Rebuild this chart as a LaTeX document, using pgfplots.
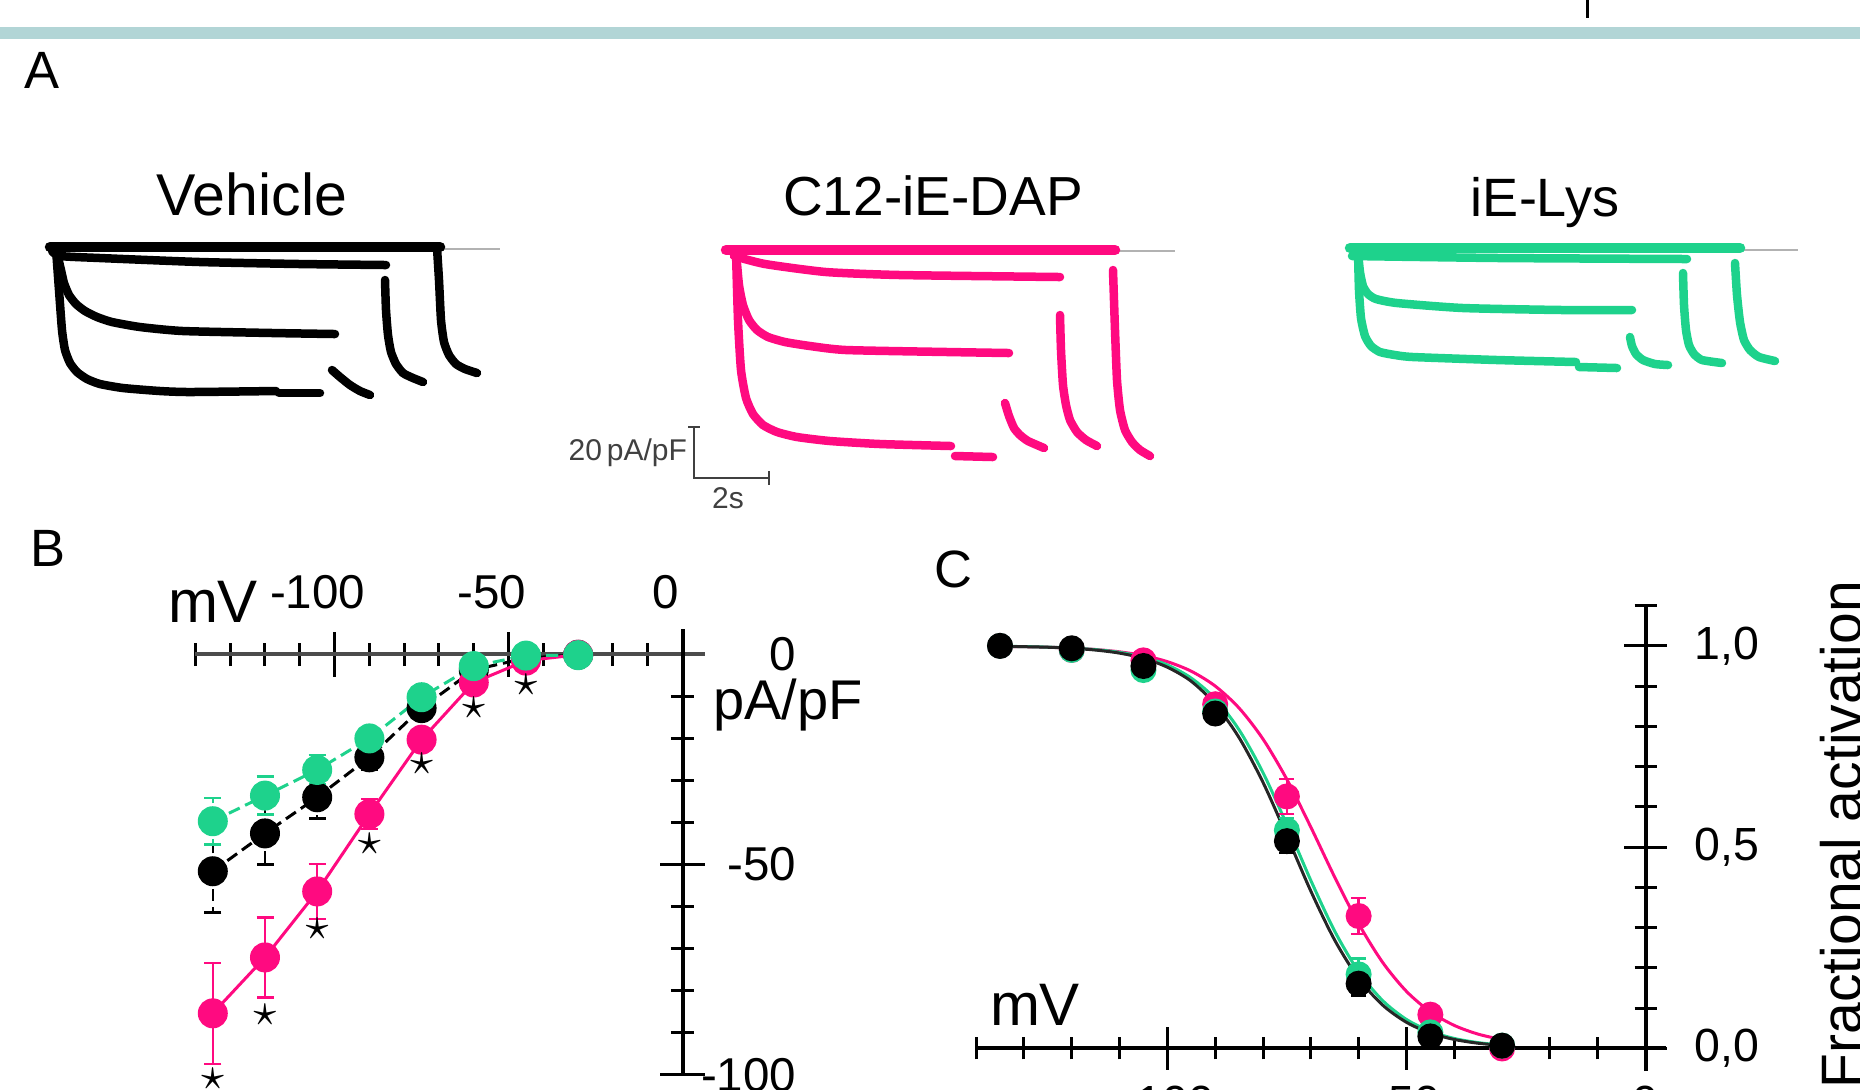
\documentclass[border=0pt]{standalone}
\usepackage{pgfplots}
\pgfplotsset{compat=1.18}
\usepackage{fontspec}
\setmainfont{Liberation Sans}
\definecolor{cpink}{RGB}{255,10,128}
\definecolor{cgreen}{RGB}{30,210,140}
\definecolor{cteal}{RGB}{178,213,214}
\tikzset{trace/.style={line width=1.7pt, line join=round, line cap=round, smooth, tension=0.35}}
\begin{document}
\begin{tikzpicture}
\useasboundingbox (0pt,0pt) rectangle (372pt,217.8pt);
\clip (0pt,0pt) rectangle (372pt,217.8pt);
% ---------- overlay (panel A and texts), pixel coordinates ----------
\begin{axis}[at={(0pt,0pt)}, anchor=south west, scale only axis,
  width=372pt, height=217.8pt, xmin=0, xmax=1860, ymin=0, ymax=1089,
  y dir=reverse, hide axis, clip=false]
\addplot[cteal, line width=2.5pt] coordinates {(0,33) (1860,33)};
\addplot[black, line width=0.6pt] coordinates {(1587,0) (1587,18)};
% Vehicle
\addplot[gray!60, line width=0.5pt] coordinates {(440,249) (500,249)};
\addplot[black, trace, line width=2.1pt] coordinates {(50,247) (440,247)};
\addplot[black, trace] coordinates {(52,251) (60,256) (100,258) (200,262) (300,264) (386,265)};
\addplot[black, trace] coordinates {(56,249) (61,270) (64,283) (69,295) (76,304) (85,311) (97,317) (112,322) (140,327) (183,331) (273,333) (335,334)};
\addplot[black, trace] coordinates {(56,249) (59,290) (62,330) (65,350) (70,363) (77,372) (87,379) (100,384) (123,388) (160,391) (190,392) (276,391)};
\addplot[black, trace] coordinates {(279,393) (320,393)};
\addplot[black, trace] coordinates {(332,370) (340,377) (350,385) (360,391) (370,395)};
\addplot[black, trace] coordinates {(385,280) (386,310) (388,335) (391,352) (396,364) (403,373) (413,378) (423,382)};
\addplot[black, trace] coordinates {(437,248) (439,280) (441,320) (444,342) (449,355) (456,364) (465,369) (477,373)};
% C12-iE-DAP
\addplot[gray!60, line width=0.5pt] coordinates {(1115,251) (1175,251)};
\addplot[cpink, trace, line width=2.1pt] coordinates {(726,250) (1115,250)};
\addplot[cpink, trace] coordinates {(734,256) (765,264) (826,272) (900,275) (1060,277)};
\addplot[cpink, trace] coordinates {(736,252) (739,285) (743,305) (749,320) (757,330) (768,337) (785,342) (810,346) (846,350) (948,352) (1009,353)};
\addplot[cpink, trace] coordinates {(736,252) (738,320) (741,370) (746,398) (753,414) (763,425) (777,432) (797,437) (830,441) (880,444) (951,446)};
\addplot[cpink, trace] coordinates {(955,456) (993,457)};
\addplot[cpink, trace] coordinates {(1005,403) (1009,416) (1014,428) (1020,435) (1028,441) (1044,448)};
\addplot[cpink, trace] coordinates {(1060,315) (1061,350) (1063,385) (1066,405) (1070,420) (1077,432) (1086,440) (1097,446)};
\addplot[cpink, trace] coordinates {(1113,270) (1115,330) (1117,380) (1120,410) (1125,430) (1132,442) (1140,450) (1150,456)};
% iE-Lys
\addplot[gray!60, line width=0.5pt] coordinates {(1740,250) (1798,250)};
\addplot[cgreen, trace, line width=2.1pt] coordinates {(1350,248) (1740,248)};
\addplot[cgreen, trace] coordinates {(1352,256) (1500,258) (1687,259)};
\addplot[cgreen, trace] coordinates {(1358,252) (1360,272) (1363,286) (1368,294) (1376,299) (1397,303) (1463,308) (1563,310) (1632,310)};
\addplot[cgreen, trace] coordinates {(1358,252) (1359,290) (1361,318) (1365,336) (1371,346) (1380,352) (1395,355) (1413,357) (1497,360) (1576,362)};
\addplot[cgreen, trace] coordinates {(1579,367) (1617,368)};
\addplot[cgreen, trace] coordinates {(1630,337) (1632,346) (1636,354) (1643,360) (1655,364) (1668,365)};
\addplot[cgreen, trace] coordinates {(1683,273) (1684,305) (1686,330) (1689,345) (1694,354) (1702,360) (1722,363)};
\addplot[cgreen, trace] coordinates {(1735,263) (1737,295) (1740,322) (1744,340) (1750,350) (1759,357) (1775,361)};
% scale bar
\addplot[black!75, line width=0.45pt] coordinates {(694,427) (694,478) (769,478)};
\addplot[black!75, line width=0.45pt] coordinates {(688,427) (700,427)};
\addplot[black!75, line width=0.45pt] coordinates {(769,471) (769,485)};
\node[anchor=east, inner sep=0pt, text=black!75, font=\fontsize{6}{7}\selectfont] at (axis cs:688,453) {20\,pA/pF};
\node[anchor=north, inner sep=0pt, text=black!75, font=\fontsize{6}{7}\selectfont] at (axis cs:728,487) {2s};
% titles and labels
\node[anchor=base, inner sep=0pt, font=\fontsize{11.8}{13}\selectfont] at (axis cs:252,215) {Vehicle};
\node[anchor=base, inner sep=0pt, font=\fontsize{11}{13}\selectfont] at (axis cs:933,215) {C12-iE-DAP};
\node[anchor=base, inner sep=0pt, font=\fontsize{10.8}{12}\selectfont] at (axis cs:1545,216) {iE-Lys};
\node[anchor=base west, inner sep=0pt, font=\fontsize{10.5}{12}\selectfont] at (axis cs:24,88) {A};
\node[anchor=base west, inner sep=0pt, font=\fontsize{10.5}{12}\selectfont] at (axis cs:29,566) {B};
\node[anchor=base west, inner sep=0pt, font=\fontsize{10.5}{12}\selectfont] at (axis cs:933,587) {C};
\node[anchor=base west, inner sep=0pt, font=\fontsize{12}{14}\selectfont] at (axis cs:167,622) {mV};
\node[anchor=base west, inner sep=0pt, font=\fontsize{11.2}{13}\selectfont] at (axis cs:712,719) {pA/pF};
\node[anchor=base west, inner sep=0pt, font=\fontsize{12}{14}\selectfont] at (axis cs:989,1025) {mV};
\node[anchor=base west, rotate=90, inner sep=0pt, font=\fontsize{11.4}{13}\selectfont] at (axis cs:1861,1089) {Fractional activation};
\end{axis}
% ---------- panel B ----------
\begin{axis}[at={(39.08pt,2.86pt)}, anchor=south west, scale only axis,
  width=101.89pt, height=89.12pt,
  xmin=-140, xmax=6.4, ymin=-100, ymax=6,
  axis lines=middle, axis line style={-, line width=0.8pt},
  x axis line style={draw=black!70},
  hide obscured x ticks=false, hide obscured y ticks=false,
  xtick={-100,-50,0}, xticklabels={-100,-50,0},
  minor xtick={-140,-130,...,-10},
  ytick={-100,-50,0}, yticklabels={-100,-50,0},
  minor ytick={-90,-80,...,-10},
  tick align=center, major tick length=9pt, minor tick length=4.7pt,
  tick style={black, line width=0.6pt},
  tick label style={font=\fontsize{9.5}{10}\selectfont, inner sep=0pt},
  xticklabel style={anchor=base, yshift=13.6pt, xshift=-3.4pt},
  yticklabel style={anchor=east, xshift=27.4pt},
  clip=false,
  error bars/y dir=both, error bars/y explicit,
  error bars/error bar style={line width=0.5pt},
  error bars/error mark options={rotate=90, mark size=1.7pt, line width=0.5pt}]
\addplot[black, line width=0.6pt, dash pattern=on 2.4pt off 1.2pt, mark=*, mark size=2.7pt, mark options={solid}] coordinates {
(-135,-51.6) +- (0,9.8) (-120,-42.6) +- (0,7.4) (-105,-34.0) +- (0,5.0) (-90,-24.5) +- (0,3.0)
(-75,-12.8) +- (0,1.5) (-60,-3.7) +- (0,1.0) (-45,-0.9) +- (0,0.5) (-30,-0.1) +- (0,0.3)};
\addplot[cpink, line width=0.6pt, mark=*, mark size=2.7pt] coordinates {
(-135,-85.4) +- (0,12) (-120,-72.1) +- (0,9.5) (-105,-56.4) +- (0,6.5) (-90,-38.0) +- (0,3.6)
(-75,-20.3) +- (0,1.5) (-60,-6.7) +- (0,1.0) (-45,-1.5) +- (0,0.5) (-30,-0.1) +- (0,0.3)};
\addplot[cgreen, line width=0.6pt, dash pattern=on 2.4pt off 1.2pt, mark=*, mark size=2.7pt, mark options={solid}] coordinates {
(-135,-39.7) +- (0,5.5) (-120,-33.6) +- (0,4.5) (-105,-27.5) +- (0,3.5) (-90,-20.0) +- (0,2.0)
(-75,-10.2) +- (0,1.5) (-60,-2.8) +- (0,1.0) (-45,-0.3) +- (0,0.5) (-30,-0.2) +- (0,0.3)};
\addplot[only marks, mark=text, text mark={\fontsize{9.5}{10}\selectfont$\star$}] coordinates {
(-135,-101) (-120,-85.8) (-105,-65.3) (-90,-45.2) (-75,-26) (-60,-12.8) (-45,-7.2)};
\end{axis}
% ---------- panel C ----------
\begin{axis}[at={(195.22pt,3.6pt)}, anchor=south west, scale only axis,
  width=137.9pt, height=93.08pt,
  xmin=-140, xmax=4.2, ymin=-0.056, ymax=1.1,
  axis lines=middle, axis line style={-, line width=0.8pt},
  hide obscured x ticks=false, hide obscured y ticks=false,
  xtick={-100,-50,0}, xticklabels={-100,-50,0},
  minor xtick={-140,-130,...,-10},
  ytick={0,0.5,1}, yticklabels={{0,0},{0,5},{1,0}},
  minor ytick={0.1,0.2,0.3,0.4,0.6,0.7,0.8,0.9,1.1},
  tick align=center, major tick length=8.5pt, minor tick length=4.4pt,
  tick style={black, line width=0.6pt},
  tick label style={font=\fontsize{9.3}{10}\selectfont, inner sep=0pt},
  xticklabel style={anchor=north, yshift=-3pt},
  yticklabel style={anchor=west, xshift=13.9pt},
  clip=false,
  error bars/y dir=both, error bars/y explicit,
  error bars/error bar style={line width=0.5pt},
  error bars/error mark options={rotate=90, mark size=1.5pt, line width=0.5pt}]
% fitted curves
\addplot[cpink, line width=0.6pt, smooth] coordinates {
(-135,0.9988) (-130,0.998) (-125,0.9967) (-120,0.9945) (-115,0.991) (-110,0.9852) (-105,0.9759)
(-100,0.9608) (-95,0.937) (-90,0.9002) (-85,0.8455) (-80,0.7685) (-75,0.6682) (-70,0.5498)
(-65,0.4255) (-60,0.31) (-55,0.2142) (-50,0.1419) (-45,0.0911) (-40,0.0573) (-35,0.0356) (-30,0.0219)};
\addplot[cgreen, line width=0.6pt, smooth] coordinates {
(-135,0.999) (-130,0.9982) (-125,0.9969) (-120,0.9946) (-115,0.9907) (-110,0.9839) (-105,0.9722)
(-100,0.9526) (-95,0.920) (-90,0.8687) (-85,0.7914) (-80,0.6852) (-75,0.5553) (-70,0.4174)
(-65,0.2913) (-60,0.1908) (-55,0.1192) (-50,0.0721) (-45,0.0427) (-40,0.0249) (-35,0.0145) (-30,0.0083)};
\addplot[black!85, line width=0.6pt, smooth] coordinates {
(-135,0.9989) (-130,0.998) (-125,0.9966) (-120,0.994) (-115,0.9896) (-110,0.982) (-105,0.969)
(-100,0.947) (-95,0.912) (-90,0.855) (-85,0.772) (-80,0.661) (-75,0.528) (-70,0.391)
(-65,0.269) (-60,0.174) (-55,0.108) (-50,0.065) (-45,0.0383) (-40,0.0224) (-35,0.013) (-30,0.0075)};
% data points
\addplot[cpink, only marks, mark=*, mark size=2.4pt] coordinates {
(-135,1.0) +- (0,0.01) (-120,0.99) +- (0,0.01) (-105,0.964) +- (0,0.015) (-90,0.855) +- (0,0.02)
(-75,0.626) +- (0,0.043) (-60,0.329) +- (0,0.045) (-45,0.084) +- (0,0.015) (-30,0.0) +- (0,0.005)};
\addplot[cgreen, only marks, mark=*, mark size=2.4pt] coordinates {
(-135,1.0) +- (0,0.01) (-120,0.99) +- (0,0.01) (-105,0.94) +- (0,0.015) (-90,0.837) +- (0,0.02)
(-75,0.542) +- (0,0.03) (-60,0.184) +- (0,0.04) (-45,0.04) +- (0,0.015) (-30,0.007) +- (0,0.005)};
\addplot[black, only marks, mark=*, mark size=2.4pt] coordinates {
(-135,1.0) +- (0,0.01) (-120,0.994) +- (0,0.01) (-105,0.95) +- (0,0.015) (-90,0.832) +- (0,0.02)
(-75,0.515) +- (0,0.03) (-60,0.161) +- (0,0.03) (-45,0.03) +- (0,0.015) (-30,0.007) +- (0,0.005)};
\end{axis}
\end{tikzpicture}
\end{document}
